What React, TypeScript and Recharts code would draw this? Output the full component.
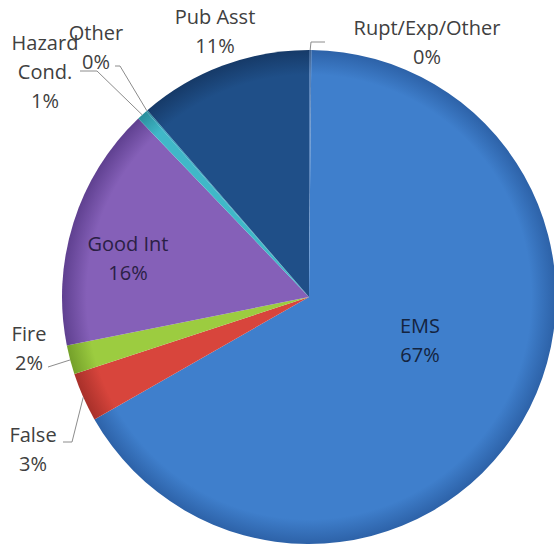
import React from "react";
import { PieChart, Pie, Cell } from "recharts";

const categories = ["Rupt/Exp/Other", "EMS", "False", "Fire", "Good Int", "Hazard Cond.", "Other", "Pub Asst"];
const values = [0.15, 66.6, 3.2, 1.9, 16.0, 0.7, 0.1, 11.35];
const percentLabels = ["0%", "67%", "3%", "2%", "16%", "1%", "0%", "11%"];
const labelLines = [["Rupt/Exp/Other"], ["EMS"], ["False"], ["Fire"], ["Good Int"], ["Hazard", "Cond."], ["Other"], ["Pub Asst"]];

const colors = ["#5b84b8", "#3f7fcc", "#d8453c", "#9ccc40", "#8560b8", "#40b8c8", "#3aa6c0", "#1f4f88"];
const edgeColors = ["#3f6290", "#2d62a8", "#a8302a", "#74a02a", "#5f4090", "#2a8e9c", "#2a8498", "#163a68"];
const textColors = ["#404040", "#14243f", "#404040", "#404040", "#2b1f45", "#404040", "#404040", "#404040"];

// label layout: text center offset from pie centre, and leader points (offset from centre)
const labelLayout = [
  { dx: 118, dy: -270, leader: [[2, -255], [16, -255]] },
  { dx: 111, dy: 28, leader: [] },
  { dx: -276, dy: 137, leader: [[-237, 145], [-246, 145]] },
  { dx: -280, dy: 36, leader: [[-261, 70]] },
  { dx: -181, dy: -54, leader: [] },
  { dx: -264, dy: -255, leader: [[-212, -226], [-229, -226]] },
  { dx: -213, dy: -265, leader: [[-189, -231], [-194, -231]] },
  { dx: -94, dy: -281, leader: [] },
];

const data = categories.map((name, i) => ({ name, value: values[i] }));
const RAD = Math.PI / 180;
const LINE_H = 29;

const renderLabel = (props: any) => {
  const { cx, cy, midAngle, outerRadius, index } = props;
  const lay = labelLayout[index];
  const lines = [...labelLines[index], percentLabels[index]];
  const ex = cx + outerRadius * Math.cos(-midAngle * RAD);
  const ey = cy + outerRadius * Math.sin(-midAngle * RAD);
  const pts = lay.leader.length ? [[ex, ey], ...lay.leader.map(([x, y]) => [cx + x, cy + y])] : [];
  return (
    <g key={`lbl-${index}`}>
      {pts.length > 0 && (
        <polyline
          points={pts.map((p) => p.join(",")).join(" ")}
          fill="none"
          stroke="#8c8c8c"
          strokeWidth={1}
        />
      )}
      {lines.map((t, j) => (
        <text
          key={j}
          x={cx + lay.dx}
          y={cy + lay.dy + j * LINE_H}
          textAnchor="middle"
          dominantBaseline="central"
          fill={textColors[index]}
          fontSize={20}
          fontFamily="'Open Sans', sans-serif"
        >
          {t}
        </text>
      ))}
    </g>
  );
};

export default function App() {
  return (
    <div style={{ position: "absolute", left: 0, top: 0, width: 554, height: 550, background: "#fff" }}>
      <PieChart width={554} height={550} margin={{ top: 0, right: 0, bottom: 0, left: 0 }}>
        <defs>
          {colors.map((c, i) => (
            <radialGradient key={i} id={`g${i}`} gradientUnits="userSpaceOnUse" cx={309} cy={297} r={247}>
              <stop offset="0%" stopColor={c} />
              <stop offset="90%" stopColor={c} />
              <stop offset="100%" stopColor={edgeColors[i]} />
            </radialGradient>
          ))}
        </defs>
        <Pie
          data={data}
          dataKey="value"
          nameKey="name"
          cx={309}
          cy={297}
          outerRadius={247}
          startAngle={90}
          endAngle={-270}
          stroke="none"
          label={renderLabel}
          labelLine={false}
          isAnimationActive={false}
        >
          {data.map((_, i) => (
            <Cell key={i} fill={`url(#g${i})`} />
          ))}
        </Pie>
      </PieChart>
    </div>
  );
}
